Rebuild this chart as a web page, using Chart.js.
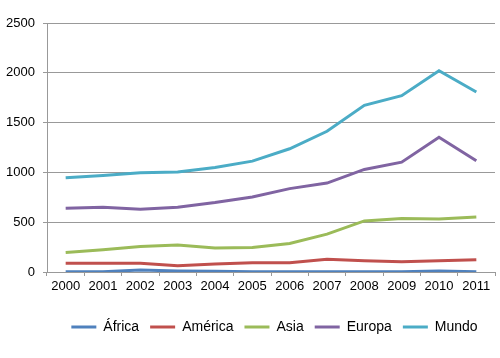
<!DOCTYPE html>
<html>
<head>
<meta charset="utf-8">
<script src="https://cdn.jsdelivr.net/npm/chart.js@4"></script>
<style>
html,body{margin:0;padding:0;background:#fff;}
#wrap{width:500px;height:358px;}
</style>
</head>
<body>
<div id="wrap"><canvas id="c" width="500" height="358"></canvas></div>
<script>
const years = ['2000','2001','2002','2003','2004','2005','2006','2007','2008','2009','2010','2011'];
const africa  = [3, 3, 20, 10, 8, 3, 3, 3, 3, 3, 10, 3];
const america = [87, 87, 87, 63, 80, 93, 93, 127, 113, 103, 113, 123];
const asia    = [197, 223, 257, 270, 240, 247, 287, 380, 513, 537, 533, 553];
const europa  = [640, 650, 630, 650, 697, 753, 837, 893, 1030, 1103, 1353, 1117];
const mundo   = [947, 970, 997, 1005, 1050, 1113, 1237, 1413, 1673, 1770, 2020, 1807];
const yTicks  = [0, 500, 1000, 1500, 2000, 2500];

const FONT = 'Liberation Sans, Arial, sans-serif';
function ds(label, data, color){
  return {label, data, borderColor: color, backgroundColor: color, borderWidth: 3,
          pointRadius: 0, tension: 0, fill: false};
}
const legendShift = {
  id: 'legendShift',
  afterLayout(chart){
    if (chart.legend){ chart.legend.left += 27; chart.legend.right += 27; }
  }
};
new Chart(document.getElementById('c'), {
  type: 'line',
  plugins: [legendShift],
  data: {
    labels: years,
    datasets: [
      ds('África', africa, '#4F81BD'),
      ds('América', america, '#C0504D'),
      ds('Asia', asia, '#9BBB59'),
      ds('Europa', europa, '#8064A2'),
      ds('Mundo', mundo, '#4BACC6')
    ]
  },
  options: {
    responsive: false,
    animation: false,
    layout: {padding: {left: 0, right: 5, top: 23, bottom: 14}},
    plugins: {
      tooltip: {enabled: false},
      legend: {
        position: 'bottom',
        labels: {
          boxWidth: 25, boxHeight: 3, padding: 11,
          color: '#000',
          font: {family: FONT, size: 14},
          generateLabels(chart){
            return chart.data.datasets.map((d,i)=>({
              text: d.label, fillStyle: d.borderColor, strokeStyle: d.borderColor,
              lineWidth: 0, hidden: false, datasetIndex: i, fontColor: '#000'
            }));
          }
        }
      }
    },
    scales: {
      x: {
        type: 'category',
        offset: true,
        afterFit(s){ s.height = 37; },
        grid: {display: true, offset: true, drawOnChartArea: false, drawTicks: true,
               tickLength: 4, color: '#999'},
        border: {display: true, color: '#999'},
        ticks: {color: '#000', font: {family: FONT, size: 13}, padding: 3,
                maxRotation: 0, autoSkip: false}
      },
      y: {
        min: 0, max: 2500,
        afterFit(s){ s.width = 47; },
        afterBuildTicks(s){ s.ticks = yTicks.map(v=>({value:v})); },
        grid: {color: '#999', tickLength: 4, drawTicks: true},
        border: {display: true, color: '#999'},
        ticks: {color: '#000', font: {family: FONT, size: 13}, padding: 8,
                callback: v => String(v)}
      }
    }
  }
});
</script>
</body>
</html>
